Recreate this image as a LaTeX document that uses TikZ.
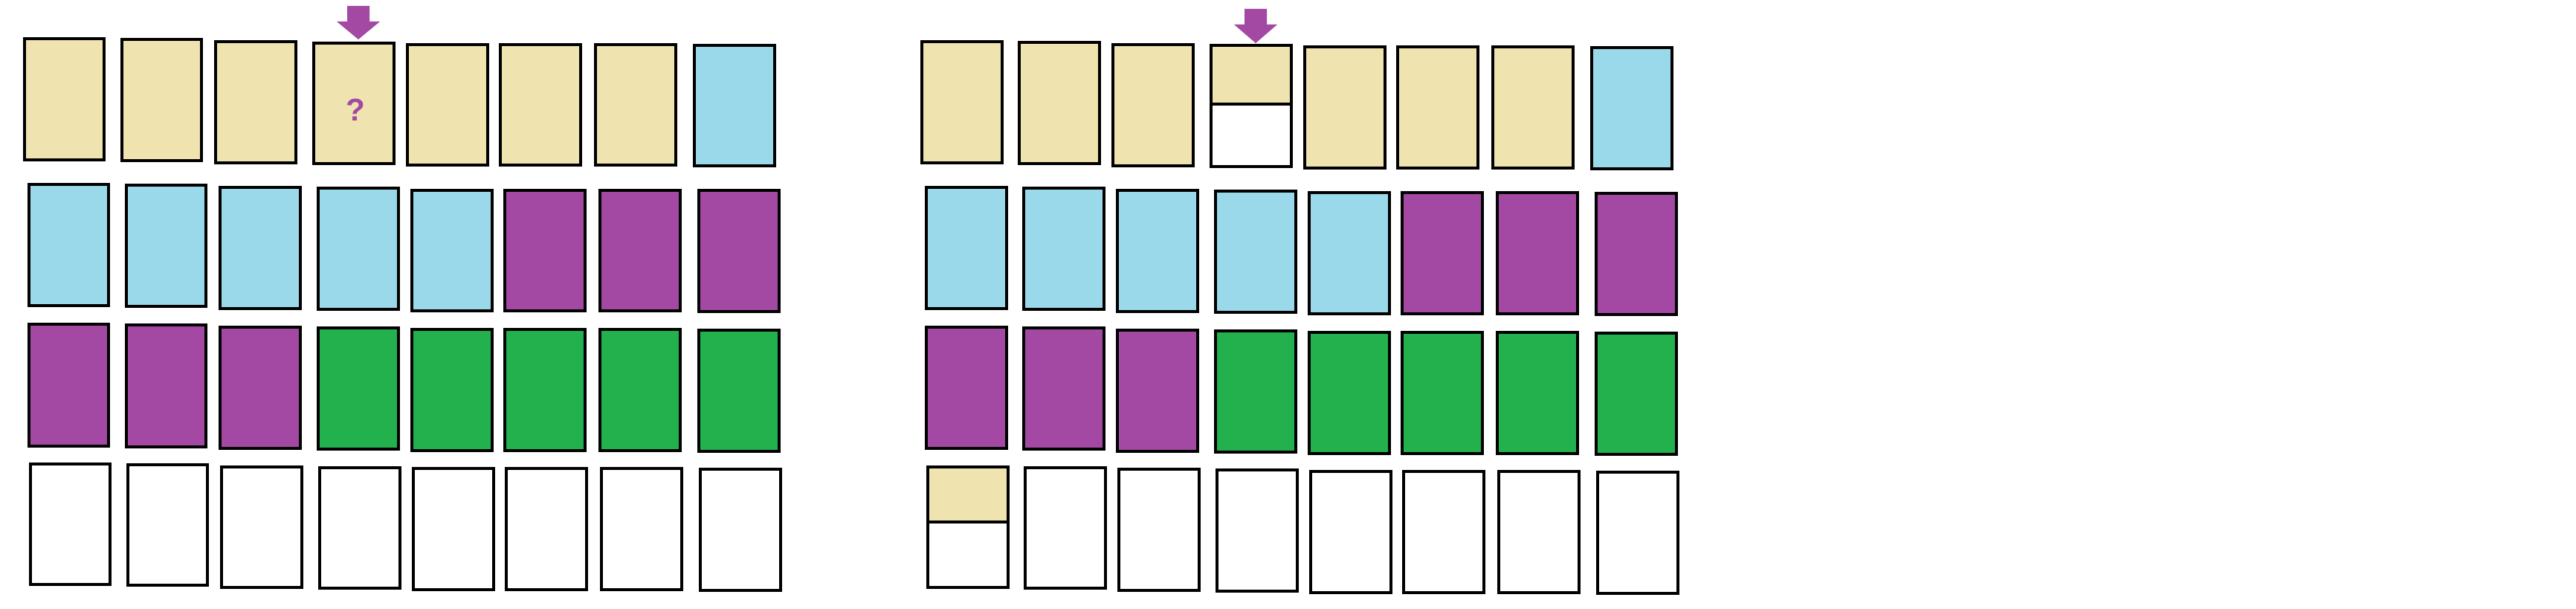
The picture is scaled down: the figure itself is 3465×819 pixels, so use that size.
\documentclass[tikz,border=0pt]{standalone}
\usepackage{fontspec}
\setmainfont{Liberation Sans}
\definecolor{beige}{RGB}{239,228,176}
\definecolor{lblue}{RGB}{153,217,234}
\definecolor{purp}{RGB}{163,73,164}
\definecolor{grn}{RGB}{34,177,76}
\tikzset{cell/.style={draw=black,line width=0.9pt}}
\newcommand{\bx}[5]{\path[cell,fill=#5] (#1,#2) rectangle (#3,#4);}
\newcommand{\sbx}[5]{%
  \fill[beige] (#1,#2) rectangle (#3,#5);
  \fill[white] (#1,#5) rectangle (#3,#4);
  \draw[cell] (#1,#2) rectangle (#3,#4);
  \draw[cell] (#1,#5) -- (#3,#5);}
\newcommand{\darrow}[3]{% x center, top y, tip y
  \fill[purp] (#1-15,#2) -- (#1+15,#2) -- (#1+15,#2+21) -- (#1+29,#2+21) -- (#1,#3) -- (#1-29,#2+21) -- (#1-15,#2+21) -- cycle;}
\begin{document}
\begin{tikzpicture}[x=0.01cm,y=-0.01cm]
\useasboundingbox[fill=white] (0,0) rectangle (3465,819);
% ---------- left panel ----------
% row 1
\bx{33}{52}{140}{215}{beige}
\bx{164}{53}{271}{216}{beige}
\bx{290}{56}{398}{219}{beige}
\bx{422}{58}{530}{220}{beige}
\bx{548}{60}{656}{222}{beige}
\bx{673}{60}{781}{222}{beige}
\bx{801}{60}{909}{222}{beige}
\bx{934}{61}{1042}{223}{lblue}
\node[text=purp,font=\bfseries\fontsize{12}{14}\selectfont] (q) at (478,148) {?};
\darrow{482}{8}{53}
% row 2
\bx{39}{248}{146}{411}{lblue}
\bx{170}{249}{277}{412}{lblue}
\bx{296}{252}{404}{415}{lblue}
\bx{428}{253}{536}{416}{lblue}
\bx{554}{256}{662}{418}{lblue}
\bx{679}{256}{787}{418}{purp}
\bx{807}{256}{915}{418}{purp}
\bx{940}{256}{1048}{419}{purp}
% row 3
\bx{39}{436}{146}{600}{purp}
\bx{170}{437}{277}{601}{purp}
\bx{296}{440}{404}{603}{purp}
\bx{428}{441}{536}{604}{grn}
\bx{554}{443}{662}{606}{grn}
\bx{679}{443}{787}{606}{grn}
\bx{807}{443}{915}{606}{grn}
\bx{940}{444}{1048}{607}{grn}
% row 4
\bx{41}{624}{148}{786}{white}
\bx{172}{625}{279}{787}{white}
\bx{298}{628}{406}{790}{white}
\bx{430}{629}{538}{791}{white}
\bx{556}{630}{664}{793}{white}
\bx{681}{630}{789}{793}{white}
\bx{809}{630}{917}{793}{white}
\bx{942}{631}{1050}{794}{white}
% ---------- right panel ----------
% row 1
\bx{1240}{56}{1348}{219}{beige}
\bx{1371}{57}{1479}{220}{beige}
\bx{1497}{60}{1605}{223}{beige}
\sbx{1629}{61}{1737}{224}{140}
\bx{1755}{63}{1863}{226}{beige}
\bx{1880}{63}{1988}{226}{beige}
\bx{2008}{63}{2116}{226}{beige}
\bx{2141}{64}{2249}{227}{lblue}
\darrow{1689}{12}{58}
% row 2
\bx{1246}{252}{1354}{415}{lblue}
\bx{1377}{253}{1485}{416}{lblue}
\bx{1503}{256}{1611}{419}{lblue}
\bx{1635}{257}{1743}{420}{lblue}
\bx{1761}{259}{1869}{422}{lblue}
\bx{1886}{259}{1994}{422}{purp}
\bx{2014}{259}{2122}{422}{purp}
\bx{2147}{260}{2255}{423}{purp}
% row 3
\bx{1246}{440}{1354}{603}{purp}
\bx{1377}{441}{1485}{604}{purp}
\bx{1503}{444}{1611}{607}{purp}
\bx{1635}{445}{1743}{608}{grn}
\bx{1761}{447}{1869}{610}{grn}
\bx{1886}{447}{1994}{610}{grn}
\bx{2014}{447}{2122}{610}{grn}
\bx{2147}{448}{2255}{611}{grn}
% row 4
\sbx{1248}{628}{1356}{790}{702}
\bx{1379}{629}{1487}{791}{white}
\bx{1505}{631}{1613}{794}{white}
\bx{1637}{632}{1745}{795}{white}
\bx{1763}{634}{1871}{797}{white}
\bx{1888}{634}{1996}{797}{white}
\bx{2016}{634}{2124}{797}{white}
\bx{2149}{635}{2257}{798}{white}
\end{tikzpicture}
\end{document}
